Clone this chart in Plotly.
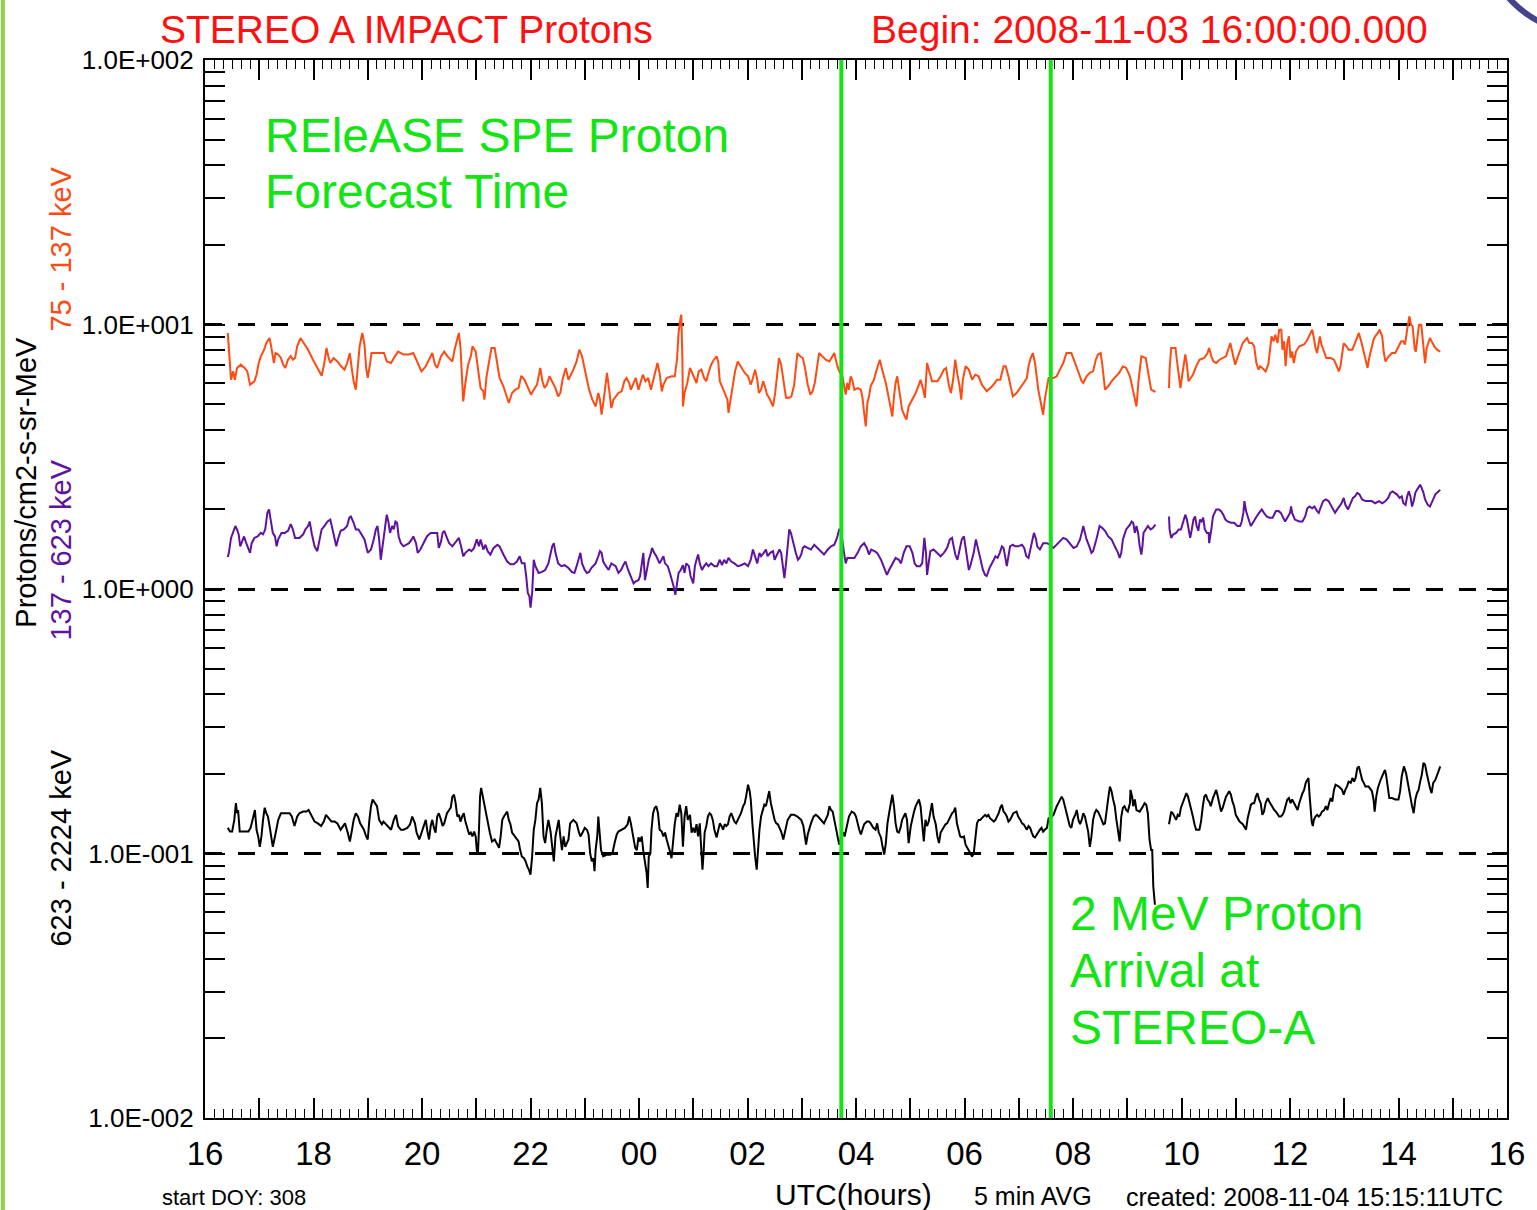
import plotly.graph_objects as go

# ---------------- data (hours since 2008-11-03 16:00 UTC, flux) ----------------
orange_75_137 = [
(0.42,9.29),(0.48,6.18),(0.52,6.65),(0.55,6.18),(0.59,6.85),(0.66,7.05),(0.73,6.85),(0.78,6.65),(0.83,5.92),(0.91,6.10),(0.95,6.46),(0.99,7.15),(1.03,7.58),(1.09,8.03),(1.13,8.51),(1.19,8.89),(1.22,8.27),(1.27,7.15),(1.30,7.80),(1.35,7.70),(1.40,7.47),(1.44,7.05),(1.48,6.85),(1.53,7.36),(1.58,7.60),(1.62,7.36),(1.66,7.47),(1.70,8.27),(1.76,8.89),(1.82,8.51),(1.90,8.03),(1.99,7.36),(2.08,6.85),(2.15,6.40),(2.20,7.15),(2.24,8.15),(2.28,7.47),(2.31,7.15),(2.37,7.47),(2.44,7.25),(2.51,6.95),(2.57,6.75),(2.62,7.15),(2.67,7.80),(2.70,6.95),(2.74,6.10),(2.78,5.67),(2.82,6.95),(2.85,8.27),(2.90,9.29),(2.94,8.40),(2.97,6.85),(3.00,6.28),(3.04,7.05),(3.07,7.80),(3.18,7.80),(3.30,7.80),(3.35,7.25),(3.43,7.15),(3.50,7.58),(3.56,7.90),(3.66,7.70),(3.76,7.70),(3.84,7.80),(3.92,7.15),(3.99,6.65),(4.07,6.95),(4.15,7.47),(4.19,7.80),(4.24,7.05),(4.28,6.85),(4.35,7.58),(4.41,7.90),(4.47,7.58),(4.56,7.25),(4.60,8.03),(4.64,8.64),(4.68,9.29),(4.71,8.15),(4.74,5.84),(4.76,5.12),(4.80,6.01),(4.85,7.05),(4.90,7.58),(4.93,8.27),(4.99,7.90),(5.03,6.95),(5.08,5.75),(5.13,5.60),(5.15,5.20),(5.19,6.37),(5.23,7.15),(5.28,8.15),(5.34,8.15),(5.39,6.95),(5.43,6.28),(5.50,5.84),(5.56,5.35),(5.60,5.05),(5.66,5.51),(5.72,5.67),(5.78,5.75),(5.83,6.40),(5.89,6.18),(5.95,5.75),(6.01,5.43),
(6.06,5.67),(6.12,5.92),(6.18,6.85),(6.22,6.10),(6.26,5.75),(6.30,5.92),(6.35,6.37),(6.40,6.10),(6.46,5.75),(6.51,5.35),(6.55,5.51),(6.59,6.18),(6.65,6.85),(6.70,6.18),(6.75,6.46),(6.79,6.75),(6.85,7.25),(6.90,8.03),(6.95,7.58),(7.00,6.65),(7.04,6.18),(7.08,5.67),(7.14,5.20),(7.20,4.90),(7.25,5.51),(7.28,5.20),(7.31,4.56),(7.35,5.20),(7.39,6.01),(7.41,6.56),(7.45,5.67),(7.49,4.83),(7.53,5.20),(7.57,5.35),(7.62,5.51),(7.68,5.59),(7.73,6.10),(7.77,6.28),(7.82,6.01),(7.85,5.67),(7.90,6.01),(7.94,6.28),(7.99,5.67),(8.04,6.18),(8.07,6.46),(8.12,6.10),(8.17,6.28),(8.22,5.67),(8.26,6.10),(8.30,6.56),(8.34,7.15),(8.38,6.56),(8.42,5.59),(8.45,5.92),(8.51,6.28),(8.60,6.37),(8.66,6.37),(8.70,7.36),(8.73,9.29),(8.76,10.43),(8.78,10.90),(8.80,7.36),(8.81,4.90),(8.84,5.51),(8.89,6.01),(8.94,6.85),(8.98,6.56),(9.02,6.28),(9.06,6.01),(9.10,6.65),(9.15,6.75),(9.20,6.28),(9.24,6.10),(9.28,6.56),(9.33,7.05),(9.38,7.36),(9.43,7.58),(9.46,7.25),(9.49,6.10),(9.53,5.84),(9.58,5.51),(9.63,5.20),(9.65,4.63),(9.69,5.20),(9.73,6.01),(9.77,6.65),(9.82,7.25),(9.88,6.95),(9.95,6.56),(10.01,6.37),(10.06,5.92),(10.10,6.28),(10.14,6.75),(10.18,6.18),(10.21,5.51),(10.25,5.67),(10.29,6.10),(10.33,5.75),(10.36,5.43),(10.40,5.28),(10.45,5.05),(10.47,4.90),(10.51,5.51),(10.55,6.46),(10.58,7.47),(10.62,7.05),(10.66,6.18),(10.71,5.28),(10.77,5.28),(10.81,5.35),(10.86,5.92),(10.89,6.95),(10.92,7.80),(10.97,7.58),(11.02,7.47),(11.06,6.85),(11.11,5.92),(11.16,5.43),(11.20,5.59),(11.24,6.01),(11.28,6.75),(11.32,7.80),(11.38,7.58),(11.44,7.36),(11.51,7.25),(11.57,7.58),(11.60,7.80),(11.65,7.05),(11.69,6.65),(11.75,6.37),(11.81,5.43),
(11.84,6.01),(11.87,5.67),(11.90,6.37),(11.93,6.18),(11.97,5.67),(12.03,5.75),(12.09,5.67),(12.12,5.28),(12.15,4.63),(12.18,4.12),(12.21,5.05),(12.24,5.35),(12.27,5.84),(12.33,6.18),(12.39,6.85),(12.44,7.36),(12.49,6.65),(12.55,6.01),(12.61,5.20),(12.64,4.76),(12.67,4.49),(12.70,5.35),(12.73,6.01),(12.76,6.37),(12.79,5.75),(12.82,5.20),(12.85,4.76),(12.90,4.49),(12.93,4.37),(12.97,4.90),(13.04,5.20),(13.10,5.51),(13.16,5.92),(13.19,6.18),(13.24,5.67),(13.27,5.28),(13.31,7.15),(13.34,6.75),(13.40,6.10),(13.50,6.10),(13.56,6.37),(13.62,6.75),(13.66,6.85),(13.71,5.92),(13.75,5.51),(13.79,6.18),(13.83,7.36),(13.87,6.46),(13.91,5.84),(13.94,5.20),(13.97,6.18),(14.02,6.95),(14.08,6.75),(14.14,6.18),(14.20,6.46),(14.26,6.37),(14.32,5.92),(14.41,5.59),(14.51,5.84),(14.60,6.18),(14.66,6.18),(14.72,6.95),(14.76,6.95),(14.81,6.37),(14.89,5.35),(14.96,5.51),(15.03,5.75),(15.09,6.01),(15.15,6.28),(15.18,6.95),(15.22,7.47),(15.26,7.80),(15.30,7.15),(15.36,5.67),(15.42,4.90),(15.45,4.56),(15.48,5.20),(15.52,5.75),(15.55,6.28),(15.64,6.28),(15.70,6.37),(15.76,6.75),(15.82,7.15),(15.88,7.80),(15.97,7.80),(16.04,7.15),(16.10,6.65),(16.16,6.10),(16.19,6.01),(16.25,6.37),(16.31,6.56),(16.37,6.65),(16.42,7.36),(16.46,7.70),(16.51,7.80),(16.54,7.05),(16.59,5.67),(16.65,5.84),(16.71,6.10),(16.77,6.28),(16.85,6.56),(16.92,6.95),(16.98,6.85),(17.05,6.37),(17.09,5.84),(17.14,5.20),(17.17,4.90),(17.21,6.18),(17.26,7.58),(17.34,7.47),(17.36,7.05),(17.40,6.18),(17.44,5.67),(17.50,5.59),(17.52,5.55),
(17.64,None),
(17.77,5.75),(17.78,6.75),(17.81,8.15),(17.89,8.15),(17.91,7.47),(17.95,6.37),(17.98,5.75),(18.01,6.37),(18.04,7.05),(18.07,7.70),(18.10,7.05),(18.13,6.10),(18.17,6.28),(18.21,6.46),(18.27,6.95),(18.33,7.36),(18.42,7.47),(18.48,7.80),(18.51,8.15),(18.55,7.58),(18.59,7.25),(18.64,7.15),(18.70,7.36),(18.77,7.47),(18.82,7.58),(18.87,8.15),(18.90,8.51),(18.94,7.80),(18.99,7.05),(19.03,7.47),(19.08,8.03),(19.13,8.51),(19.18,8.76),(19.21,8.89),(19.25,8.51),(19.30,8.51),(19.34,8.27),(19.38,7.15),(19.42,6.75),(19.45,6.95),(19.49,6.85),(19.52,6.75),(19.55,6.65),(19.60,7.05),(19.63,8.27),(19.66,9.02),(19.70,8.64),(19.73,9.15),(19.77,8.51),(19.80,9.56),(19.84,9.56),(19.86,8.03),(19.89,8.64),(19.92,6.95),(19.95,8.51),(19.98,9.02),(20.01,7.47),(20.04,7.90),(20.07,7.15),(20.11,7.90),(20.17,8.27),(20.26,8.40),(20.32,8.76),(20.38,9.29),(20.41,9.56),(20.44,8.89),(20.47,8.15),(20.50,7.80),(20.55,9.02),(20.58,8.40),(20.63,7.80),(20.67,7.47),(20.75,7.47),(20.81,7.36),(20.85,7.05),(20.90,6.65),(20.93,6.95),(20.96,7.70),(20.99,8.51),(21.04,8.27),(21.08,8.03),(21.15,8.03),(21.20,8.51),(21.24,9.02),(21.27,9.29),(21.32,8.51),(21.36,7.90),(21.39,7.47),(21.43,6.85),(21.46,7.47),(21.51,8.27),(21.54,8.76),(21.57,9.02),(21.62,9.29),(21.65,9.56),(21.70,9.02),(21.73,7.80),(21.76,7.25),(21.82,7.58),(21.88,7.80),(21.94,7.80),(22.00,8.27),(22.05,8.64),(22.09,8.64),(22.12,8.40),(22.16,9.56),(22.19,10.43),(22.20,10.74),(22.23,9.98),(22.26,9.84),(22.30,8.03),(22.32,7.90),(22.36,9.29),(22.38,9.98),(22.42,9.98),(22.44,8.98),(22.47,7.80),(22.49,7.15),(22.52,8.15),(22.55,8.51),(22.58,8.89),(22.61,8.64),(22.66,8.27),(22.71,8.03),(22.77,7.90),
]

purple_137_623 = [
(0.42,1.32),(0.44,1.37),(0.48,1.56),(0.52,1.63),(0.56,1.73),(0.59,1.68),(0.62,1.61),(0.65,1.45),(0.69,1.54),(0.72,1.58),(0.75,1.51),(0.78,1.45),(0.83,1.37),(0.86,1.49),(0.91,1.56),(0.97,1.58),(1.03,1.63),(1.07,1.61),(1.11,1.68),(1.15,1.94),(1.18,2.00),(1.21,1.83),(1.25,1.63),(1.29,1.58),(1.32,1.45),(1.35,1.54),(1.41,1.63),(1.47,1.63),(1.53,1.66),(1.58,1.76),(1.62,1.68),(1.66,1.56),(1.74,1.56),(1.81,1.61),(1.85,1.68),(1.90,1.73),(1.93,1.80),(1.97,1.61),(2.02,1.45),(2.07,1.39),(2.11,1.54),(2.15,1.68),(2.20,1.73),(2.26,1.80),(2.31,1.83),(2.36,1.63),(2.42,1.45),(2.45,1.54),(2.50,1.66),(2.56,1.68),(2.62,1.73),(2.66,1.86),(2.69,1.88),(2.74,1.78),(2.78,1.68),(2.83,1.68),(2.88,1.61),(2.94,1.54),(3.00,1.37),(3.06,1.41),(3.11,1.54),(3.15,1.68),(3.18,1.73),(3.21,1.54),(3.24,1.29),(3.29,1.54),(3.32,1.73),(3.35,1.91),(3.38,1.80),(3.41,1.63),(3.45,1.73),(3.48,1.68),(3.51,1.80),(3.54,1.78),(3.57,1.58),(3.61,1.49),(3.66,1.45),(3.72,1.47),(3.76,1.49),(3.81,1.54),(3.84,1.58),(3.89,1.49),(3.92,1.37),(3.97,1.41),(4.03,1.49),(4.09,1.58),(4.16,1.63),(4.22,1.63),(4.28,1.63),(4.31,1.43),(4.35,1.51),(4.38,1.63),(4.41,1.66),(4.46,1.56),(4.50,1.49),(4.56,1.45),(4.62,1.51),(4.68,1.56),(4.72,1.45),(4.76,1.33),(4.80,1.37),(4.87,1.41),(4.91,1.39),(4.96,1.43),(5.01,1.54),(5.05,1.45),(5.08,1.54),(5.13,1.41),(5.17,1.47),(5.21,1.39),(5.26,1.35),(5.32,1.43),(5.39,1.47),(5.43,1.45),(5.50,1.35),(5.57,1.27),(5.63,1.24),(5.69,1.24),(5.75,1.27),(5.80,1.33),(5.84,1.25),(5.89,1.25),(5.92,1.12),(5.95,0.966),(5.98,0.938),(6.00,0.85),(6.03,0.966),
(6.06,1.29),(6.09,1.22),(6.12,1.18),(6.15,1.15),(6.21,1.16),(6.27,1.18),(6.33,1.25),(6.37,1.37),(6.40,1.45),(6.43,1.49),(6.46,1.37),(6.51,1.25),(6.57,1.22),(6.63,1.23),(6.70,1.20),(6.76,1.16),(6.81,1.15),(6.85,1.22),(6.89,1.29),(6.92,1.37),(6.95,1.25),(7.00,1.18),(7.04,1.15),(7.08,1.16),(7.12,1.20),(7.16,1.22),(7.20,1.25),(7.25,1.33),(7.28,1.39),(7.31,1.37),(7.34,1.27),(7.39,1.22),(7.44,1.18),(7.49,1.25),(7.53,1.23),(7.57,1.22),(7.62,1.15),(7.67,1.18),(7.71,1.23),(7.75,1.27),(7.80,1.18),(7.85,1.12),(7.90,1.05),(7.94,1.07),(7.99,1.08),(8.02,1.12),(8.05,1.22),(8.08,1.37),(8.11,1.08),(8.14,1.18),(8.18,1.29),(8.22,1.37),(8.24,1.43),(8.28,1.37),(8.32,1.33),(8.38,1.25),(8.45,1.33),(8.48,1.25),(8.53,1.22),(8.57,1.15),(8.61,1.08),(8.64,1.02),(8.67,0.95),(8.70,1.05),(8.73,1.15),(8.77,1.18),(8.81,1.23),(8.84,1.15),(8.87,1.25),(8.92,1.22),(8.95,1.12),(9.00,1.05),(9.03,1.22),(9.06,1.29),(9.09,1.35),(9.12,1.25),(9.16,1.18),(9.20,1.22),(9.24,1.25),(9.28,1.22),(9.33,1.25),(9.39,1.22),(9.44,1.22),(9.49,1.29),(9.53,1.23),(9.57,1.29),(9.61,1.25),(9.65,1.31),(9.70,1.27),(9.76,1.25),(9.82,1.22),(9.88,1.23),(9.95,1.25),(10.01,1.22),(10.06,1.29),(10.10,1.41),(10.14,1.33),(10.18,1.25),(10.22,1.37),(10.25,1.33),(10.30,1.37),(10.34,1.41),(10.37,1.33),(10.42,1.37),(10.47,1.39),(10.50,1.29),(10.53,1.33),(10.56,1.37),(10.59,1.41),(10.62,1.37),(10.65,1.22),(10.68,1.10),(10.71,1.25),(10.74,1.49),(10.77,1.68),(10.80,1.63),(10.83,1.54),(10.86,1.43),(10.89,1.37),(10.93,1.29),(10.96,1.31),(10.99,1.35),(11.02,1.43),(11.05,1.45),(11.11,1.43),(11.17,1.41),(11.23,1.47),(11.29,1.43),(11.35,1.39),(11.41,1.35),(11.48,1.41),(11.54,1.45),(11.60,1.47),(11.65,1.56),(11.69,1.68),(11.72,1.68),
(11.78,1.37),(11.81,1.25),(11.84,1.31),(11.90,1.31),(11.97,1.31),(12.03,1.37),(12.09,1.45),(12.15,1.49),(12.20,1.43),(12.24,1.35),(12.28,1.41),(12.34,1.39),(12.39,1.37),(12.46,1.29),(12.52,1.20),(12.57,1.13),(12.61,1.18),(12.67,1.25),(12.73,1.31),(12.79,1.29),(12.83,1.25),(12.88,1.37),(12.93,1.45),(12.99,1.45),(13.04,1.37),(13.08,1.25),(13.12,1.22),(13.18,1.22),(13.22,1.25),(13.26,1.56),(13.29,1.37),(13.31,1.13),(13.34,1.29),(13.37,1.39),(13.43,1.41),(13.50,1.37),(13.56,1.33),(13.62,1.37),(13.68,1.43),(13.73,1.54),(13.77,1.56),(13.80,1.45),(13.83,1.35),(13.87,1.29),(13.92,1.45),(13.95,1.54),(13.99,1.58),(14.02,1.45),(14.05,1.33),(14.08,1.18),(14.11,1.23),(14.14,1.29),(14.17,1.37),(14.21,1.54),(14.24,1.45),(14.28,1.33),(14.30,1.25),(14.34,1.18),(14.38,1.13),(14.41,1.12),(14.46,1.20),(14.51,1.25),(14.54,1.29),(14.57,1.33),(14.61,1.31),(14.65,1.37),(14.69,1.45),(14.72,1.43),(14.75,1.33),(14.78,1.22),(14.81,1.33),(14.84,1.45),(14.89,1.47),(14.93,1.45),(14.99,1.45),(15.06,1.47),(15.10,1.43),(15.14,1.33),(15.18,1.31),(15.22,1.45),(15.26,1.58),(15.28,1.63),(15.32,1.54),(15.34,1.45),(15.39,1.41),(15.45,1.49),(15.52,1.49),(15.58,1.47),(15.64,1.43),(15.70,1.47),(15.76,1.51),(15.82,1.56),(15.88,1.54),(15.94,1.49),(16.01,1.43),(16.07,1.45),(16.13,1.54),(16.16,1.63),(16.19,1.73),(16.22,1.63),(16.25,1.54),(16.30,1.45),(16.34,1.37),(16.37,1.39),(16.40,1.45),(16.43,1.54),(16.46,1.63),(16.49,1.73),(16.54,1.70),(16.59,1.66),(16.65,1.58),(16.71,1.54),(16.77,1.45),(16.83,1.37),(16.86,1.31),(16.89,1.37),(16.92,1.54),(16.95,1.63),(16.98,1.68),(17.05,1.75),(17.08,1.80),(17.11,1.78),(17.14,1.63),(17.17,1.73),(17.20,1.63),(17.23,1.45),(17.26,1.35),(17.28,1.45),(17.30,1.63),(17.34,1.68),(17.38,1.73),(17.43,1.68),(17.47,1.70),(17.52,1.75),
(17.64,None),
(17.77,1.88),(17.78,1.68),(17.81,1.56),(17.85,1.61),(17.90,1.63),(17.95,1.68),(17.99,1.68),(18.04,1.83),(18.07,1.91),(18.10,1.83),(18.13,1.68),(18.16,1.56),(18.19,1.68),(18.22,1.83),(18.25,1.88),(18.28,1.73),(18.31,1.66),(18.34,1.83),(18.37,1.80),(18.40,1.86),(18.43,1.68),(18.47,1.63),(18.50,1.63),(18.51,1.49),(18.55,1.68),(18.58,1.88),(18.61,1.94),(18.64,2.00),(18.69,2.00),(18.73,1.97),(18.77,1.91),(18.81,1.83),(18.85,1.80),(18.91,1.78),(18.97,1.78),(19.03,1.73),(19.08,1.73),(19.11,1.80),(19.14,1.94),(19.16,2.15),(19.19,1.97),(19.22,1.86),(19.25,1.80),(19.28,1.73),(19.31,1.78),(19.37,1.86),(19.43,1.94),(19.48,2.00),(19.52,1.94),(19.57,1.88),(19.62,1.86),(19.68,1.86),(19.74,1.97),(19.79,1.97),(19.83,1.94),(19.87,1.88),(19.91,1.80),(19.95,1.86),(20.00,1.94),(20.02,2.05),(20.04,1.94),(20.09,1.83),(20.17,1.80),(20.23,1.80),(20.28,1.88),(20.32,2.02),(20.36,2.05),(20.41,2.02),(20.45,2.05),(20.50,1.97),(20.53,1.94),(20.56,2.02),(20.61,2.15),(20.66,2.18),(20.71,2.15),(20.75,2.08),(20.79,2.00),(20.83,1.94),(20.87,2.00),(20.91,2.05),(20.95,2.11),(20.99,2.21),(21.02,2.08),(21.07,2.00),(21.12,2.11),(21.16,2.21),(21.20,2.24),(21.24,2.31),(21.28,2.28),(21.33,2.18),(21.39,2.15),(21.45,2.15),(21.51,2.15),(21.57,2.11),(21.64,2.15),(21.70,2.11),(21.76,2.15),(21.81,2.21),(21.85,2.31),(21.89,2.34),(21.93,2.31),(21.97,2.28),(22.02,2.21),(22.06,2.24),(22.09,2.11),(22.13,2.08),(22.16,2.24),(22.19,2.34),(22.22,2.24),(22.25,2.05),(22.28,2.15),(22.31,2.31),(22.34,2.37),(22.37,2.44),(22.40,2.48),(22.43,2.40),(22.46,2.31),(22.49,2.18),(22.54,2.08),(22.58,2.05),(22.62,2.15),(22.64,2.21),(22.68,2.28),(22.74,2.34),(22.77,2.37),
]

black_623_2224 = [
(0.42,0.125),(0.46,0.121),(0.50,0.121),(0.54,0.134),(0.57,0.155),(0.59,0.142),(0.61,0.146),(0.64,0.121),(0.70,0.121),(0.80,0.121),(0.84,0.125),(0.88,0.134),(0.92,0.146),(0.95,0.123),(0.98,0.116),(1.01,0.106),(1.04,0.116),(1.07,0.134),(1.10,0.149),(1.13,0.142),(1.16,0.138),(1.19,0.127),(1.22,0.116),(1.25,0.106),(1.29,0.116),(1.32,0.127),(1.35,0.134),(1.40,0.142),(1.47,0.142),(1.56,0.142),(1.60,0.138),(1.65,0.127),(1.70,0.138),(1.74,0.142),(1.81,0.144),(1.87,0.144),(1.91,0.146),(1.96,0.140),(2.02,0.132),(2.08,0.130),(2.14,0.127),(2.19,0.132),(2.23,0.140),(2.28,0.136),(2.33,0.132),(2.39,0.132),(2.44,0.130),(2.50,0.123),(2.54,0.127),(2.58,0.130),(2.63,0.120),(2.67,0.111),(2.71,0.123),(2.74,0.134),(2.78,0.142),(2.82,0.138),(2.86,0.130),(2.93,0.123),(2.97,0.116),(3.00,0.113),(3.03,0.134),(3.06,0.151),(3.09,0.160),(3.13,0.155),(3.17,0.151),(3.21,0.134),(3.26,0.129),(3.29,0.132),(3.34,0.129),(3.38,0.127),(3.43,0.123),(3.48,0.134),(3.52,0.140),(3.56,0.127),(3.61,0.123),(3.66,0.123),(3.73,0.125),(3.78,0.129),(3.82,0.138),(3.87,0.130),(3.90,0.120),(3.95,0.113),(3.99,0.120),(4.03,0.127),(4.07,0.134),(4.10,0.121),(4.13,0.113),(4.16,0.127),(4.19,0.134),(4.22,0.125),(4.25,0.120),(4.28,0.138),(4.31,0.142),(4.35,0.134),(4.38,0.127),(4.41,0.130),(4.46,0.142),(4.50,0.146),(4.53,0.149),(4.56,0.164),(4.59,0.167),(4.62,0.155),(4.65,0.138),(4.68,0.140),(4.71,0.132),(4.74,0.138),(4.77,0.142),(4.80,0.132),(4.83,0.125),(4.87,0.118),(4.90,0.120),(4.93,0.116),(4.96,0.121),(4.99,0.116),(5.01,0.103),(5.03,0.099),(5.05,0.123),(5.07,0.164),(5.09,0.177),(5.13,0.160),(5.17,0.142),(5.20,0.132),(5.25,0.120),(5.29,0.111),(5.34,0.113),(5.39,0.108),(5.42,0.105),(5.45,0.116),(5.48,0.134),(5.51,0.138),(5.54,0.142),(5.57,0.144),(5.60,0.134),(5.63,0.129),(5.66,0.120),(5.72,0.116),(5.78,0.111),(5.81,0.103),(5.84,0.0975),(5.88,0.096),(5.91,0.0934),(5.94,0.0894),(5.97,0.0869),(6.00,0.0832),
(6.03,0.0975),(6.06,0.123),(6.09,0.134),(6.12,0.155),(6.15,0.160),(6.18,0.177),(6.21,0.155),(6.24,0.116),(6.27,0.1095),(6.30,0.123),(6.33,0.134),(6.37,0.121),(6.40,0.106),(6.43,0.0934),(6.46,0.116),(6.49,0.125),(6.52,0.134),(6.55,0.116),(6.58,0.103),(6.61,0.116),(6.64,0.106),(6.70,0.113),(6.73,0.130),(6.79,0.134),(6.85,0.130),(6.89,0.121),(6.92,0.116),(6.96,0.120),(7.00,0.125),(7.04,0.123),(7.07,0.118),(7.10,0.100),(7.13,0.0934),(7.16,0.096),(7.18,0.0857),(7.20,0.103),(7.23,0.116),(7.25,0.138),(7.27,0.121),(7.30,0.103),(7.34,0.0975),(7.41,0.099),(7.47,0.099),(7.51,0.100),(7.55,0.1095),(7.59,0.118),(7.62,0.121),(7.68,0.123),(7.74,0.125),(7.79,0.129),(7.82,0.138),(7.85,0.130),(7.90,0.116),(7.93,0.105),(7.96,0.103),(7.99,0.115),(8.02,0.111),(8.05,0.116),(8.08,0.102),(8.11,0.092),(8.14,0.0845),(8.16,0.0741),(8.18,0.0975),(8.21,0.100),(8.23,0.123),(8.26,0.142),(8.29,0.149),(8.32,0.151),(8.35,0.142),(8.38,0.123),(8.42,0.121),(8.45,0.116),(8.48,0.120),(8.51,0.113),(8.54,0.108),(8.57,0.102),(8.60,0.096),(8.63,0.113),(8.66,0.130),(8.69,0.142),(8.72,0.138),(8.75,0.153),(8.78,0.142),(8.81,0.106),(8.84,0.138),(8.87,0.151),(8.90,0.134),(8.94,0.140),(8.97,0.120),(9.00,0.125),(9.03,0.120),(9.06,0.129),(9.09,0.116),(9.12,0.130),(9.15,0.100),(9.17,0.0869),(9.19,0.100),(9.21,0.120),(9.24,0.127),(9.27,0.138),(9.30,0.142),(9.33,0.140),(9.36,0.134),(9.39,0.123),(9.43,0.115),(9.46,0.123),(9.49,0.130),(9.52,0.127),(9.55,0.123),(9.58,0.129),(9.61,0.127),(9.64,0.129),(9.67,0.138),(9.70,0.142),(9.73,0.136),(9.76,0.132),(9.79,0.130),(9.82,0.134),(9.85,0.136),(9.88,0.142),(9.92,0.151),(9.95,0.155),(9.98,0.167),(10.01,0.182),(10.04,0.172),(10.06,0.160),(10.09,0.130),(10.11,0.113),(10.14,0.0975),(10.17,0.0869),(10.19,0.103),(10.22,0.123),(10.25,0.138),(10.28,0.144),(10.31,0.153),(10.34,0.151),(10.37,0.160),(10.40,0.172),(10.43,0.155),(10.47,0.142),(10.50,0.134),(10.53,0.130),(10.56,0.129),(10.62,0.121),(10.66,0.113),(10.70,0.123),(10.74,0.134),(10.80,0.140),(10.86,0.140),(10.92,0.138),(10.99,0.134),(11.03,0.127),(11.08,0.108),(11.11,0.118),(11.14,0.125),(11.17,0.130),(11.22,0.138),(11.26,0.140),(11.30,0.138),(11.35,0.134),(11.41,0.130),(11.48,0.140),(11.51,0.151),(11.54,0.146),(11.57,0.144),(11.60,0.134),(11.65,0.120),(11.69,0.108),
(11.73,0.116),(11.77,0.120),(11.79,0.116),(11.83,0.127),(11.87,0.138),(11.92,0.144),(11.97,0.142),(12.00,0.138),(12.03,0.129),(12.06,0.123),(12.09,0.118),(12.12,0.125),(12.15,0.129),(12.20,0.132),(12.24,0.132),(12.27,0.130),(12.32,0.125),(12.36,0.123),(12.39,0.130),(12.42,0.120),(12.46,0.115),(12.49,0.106),(12.52,0.099),(12.55,0.1095),(12.58,0.130),(12.61,0.142),(12.64,0.155),(12.67,0.167),(12.70,0.151),(12.73,0.130),(12.76,0.121),(12.79,0.120),(12.82,0.125),(12.85,0.134),(12.88,0.138),(12.91,0.142),(12.94,0.134),(12.97,0.1095),(13.01,0.127),(13.04,0.136),(13.07,0.144),(13.10,0.151),(13.13,0.155),(13.16,0.160),(13.19,0.151),(13.22,0.130),(13.25,0.111),(13.28,0.134),(13.31,0.127),(13.34,0.132),(13.37,0.144),(13.40,0.155),(13.43,0.138),(13.47,0.129),(13.50,0.116),(13.53,0.1095),(13.56,0.120),(13.59,0.123),(13.62,0.127),(13.65,0.129),(13.68,0.130),(13.71,0.134),(13.74,0.138),(13.77,0.142),(13.80,0.144),(13.83,0.149),(13.86,0.130),(13.89,0.123),(13.92,0.116),(13.95,0.115),(13.99,0.116),(14.02,0.108),(14.05,0.105),(14.08,0.103),(14.11,0.100),(14.14,0.0975),(14.17,0.100),(14.20,0.118),(14.23,0.130),(14.26,0.134),(14.29,0.134),(14.32,0.136),(14.35,0.138),(14.38,0.140),(14.41,0.138),(14.44,0.140),(14.47,0.136),(14.51,0.134),(14.54,0.132),(14.57,0.134),(14.60,0.138),(14.63,0.142),(14.66,0.149),(14.69,0.153),(14.72,0.144),(14.75,0.142),(14.78,0.138),(14.81,0.132),(14.84,0.134),(14.87,0.138),(14.90,0.142),(14.96,0.144),(14.99,0.138),(15.03,0.134),(15.06,0.130),(15.09,0.129),(15.12,0.125),(15.15,0.123),(15.18,0.127),(15.21,0.125),(15.24,0.120),(15.27,0.116),(15.30,0.115),(15.33,0.118),(15.36,0.121),(15.39,0.123),(15.42,0.125),(15.45,0.121),(15.48,0.123),(15.52,0.125),(15.55,0.136),(15.58,0.136),(15.64,0.140),(15.67,0.146),(15.70,0.151),(15.73,0.155),(15.76,0.160),(15.79,0.164),(15.82,0.160),(15.85,0.151),(15.88,0.146),(15.91,0.134),(15.94,0.127),(15.97,0.125),(16.00,0.134),(16.04,0.140),(16.07,0.146),(16.10,0.134),(16.13,0.129),(16.16,0.134),(16.19,0.142),(16.22,0.138),(16.25,0.130),(16.28,0.121),(16.31,0.106),(16.34,0.116),(16.37,0.134),(16.40,0.142),(16.43,0.146),(16.46,0.144),(16.49,0.140),(16.52,0.134),(16.56,0.129),(16.59,0.130),(16.62,0.149),(16.65,0.162),(16.68,0.179),(16.71,0.172),(16.74,0.160),(16.77,0.151),(16.80,0.134),(16.83,0.120),(16.86,0.111),(16.89,0.138),(16.92,0.149),(16.95,0.151),(16.98,0.146),(17.01,0.144),(17.05,0.155),(17.06,0.174),(17.09,0.164),(17.11,0.151),(17.14,0.160),(17.17,0.146),(17.23,0.144),(17.29,0.151),(17.32,0.155),(17.35,0.153),(17.38,0.142),(17.41,0.113),(17.44,0.103),(17.46,0.103),(17.48,0.075),(17.51,0.064),
(17.64,None),
(17.77,0.129),(17.78,0.134),(17.81,0.144),(17.84,0.142),(17.87,0.138),(17.90,0.134),(17.93,0.140),(17.96,0.138),(17.99,0.149),(18.02,0.155),(18.06,0.162),(18.09,0.169),(18.12,0.164),(18.15,0.155),(18.18,0.149),(18.21,0.138),(18.24,0.129),(18.27,0.123),(18.33,0.123),(18.36,0.132),(18.39,0.149),(18.42,0.164),(18.45,0.167),(18.48,0.160),(18.51,0.157),(18.54,0.151),(18.58,0.162),(18.61,0.167),(18.64,0.174),(18.67,0.164),(18.70,0.155),(18.73,0.144),(18.76,0.149),(18.79,0.155),(18.82,0.164),(18.88,0.172),(18.91,0.167),(18.94,0.157),(18.97,0.151),(19.00,0.140),(19.07,0.132),(19.13,0.129),(19.16,0.125),(19.19,0.123),(19.22,0.136),(19.25,0.146),(19.28,0.153),(19.31,0.155),(19.34,0.155),(19.37,0.164),(19.40,0.169),(19.43,0.160),(19.46,0.155),(19.49,0.140),(19.52,0.144),(19.55,0.155),(19.59,0.162),(19.62,0.157),(19.65,0.153),(19.68,0.149),(19.71,0.146),(19.74,0.144),(19.77,0.140),(19.80,0.138),(19.83,0.138),(19.86,0.140),(19.89,0.144),(19.92,0.151),(19.95,0.160),(19.98,0.162),(20.01,0.155),(20.04,0.160),(20.08,0.155),(20.11,0.151),(20.14,0.146),(20.17,0.155),(20.20,0.164),(20.23,0.169),(20.26,0.174),(20.29,0.185),(20.32,0.190),(20.34,0.193),(20.36,0.167),(20.38,0.144),(20.40,0.132),(20.42,0.127),(20.44,0.134),(20.47,0.138),(20.50,0.140),(20.53,0.138),(20.56,0.140),(20.59,0.144),(20.63,0.146),(20.66,0.151),(20.69,0.146),(20.72,0.155),(20.75,0.162),(20.78,0.157),(20.81,0.174),(20.84,0.182),(20.90,0.179),(20.96,0.174),(20.99,0.167),(21.02,0.174),(21.05,0.179),(21.08,0.187),(21.12,0.185),(21.15,0.193),(21.18,0.187),(21.21,0.193),(21.24,0.210),(21.27,0.2135),(21.30,0.201),(21.33,0.190),(21.36,0.185),(21.39,0.179),(21.45,0.179),(21.51,0.172),(21.54,0.160),(21.56,0.144),(21.59,0.164),(21.62,0.177),(21.67,0.190),(21.70,0.196),(21.73,0.204),(21.75,0.207),(21.77,0.199),(21.80,0.179),(21.83,0.162),(21.88,0.162),(21.94,0.160),(22.00,0.160),(22.03,0.172),(22.06,0.196),(22.10,0.2135),(22.14,0.201),(22.16,0.190),(22.19,0.172),(22.22,0.162),(22.25,0.151),(22.28,0.142),(22.31,0.160),(22.34,0.169),(22.37,0.174),(22.40,0.187),(22.43,0.199),(22.46,0.220),(22.49,0.2167),(22.52,0.201),(22.55,0.187),(22.58,0.177),(22.61,0.169),(22.64,0.185),(22.68,0.190),(22.71,0.199),(22.74,0.207),(22.77,0.2135),
]

event_hours = [11.73, 15.59]          # REleASE forecast time, 2 MeV arrival (03:44, 07:35 UTC)
hour_ticks = list(range(0, 25))
hour_labels = [("%02d" % ((16 + h) % 24)) if h % 2 == 0 else "" for h in hour_ticks]
decade_ticks = [0.01, 0.1, 1, 10, 100]
decade_labels = ["1.0E-002", "1.0E-001", "1.0E+000", "1.0E+001", "1.0E+002"]
minor_y_ticks = [m * d for d in [0.01, 0.1, 1, 10] for m in range(2, 10)]

ORANGE = "#FF4A12"
PURPLE = "#5E129E"
GREEN = "#13E413"
IDL_FONT = "Liberation Sans, Arial, sans-serif"

fig = go.Figure()
for series, color in [(orange_75_137, ORANGE), (purple_137_623, PURPLE), (black_623_2224, "black")]:
    xs = [p[0] for p in series]
    ys = [p[1] for p in series]
    fig.add_trace(go.Scatter(x=xs, y=ys, mode="lines", connectgaps=False,
                             line=dict(color=color, width=2), showlegend=False,
                             hoverinfo="skip"))

shapes = []
for h in event_hours:
    shapes.append(dict(type="line", xref="x", yref="paper", x0=h, x1=h, y0=0, y1=1,
                       line=dict(color=GREEN, width=4), layer="above"))
# slide's green left border
shapes.append(dict(type="rect", xref="paper", yref="paper", x0=-0.1568, x1=-0.1537,
                   y0=-0.09, y1=1.06, fillcolor="#92D050", line=dict(width=0), layer="below"))
# slide decoration arc in the top-right corner
shapes.append(dict(type="circle", xref="paper", yref="paper", x0=0.9824, x1=1.1354,
                   y0=1.0265, y1=1.2155, line=dict(color="#44448A", width=6),
                   fillcolor="rgba(0,0,0,0)", layer="below"))

PW, PH, L, T = 1307.0, 1058.0, 205.0, 60.0
def px(x):
    return (x - L) / PW
def py(y):
    return (T + PH - y) / PH

annotations = []
def ann(text, x, y, size, color, xanchor="left", yanchor="middle", angle=0, family=IDL_FONT):
    annotations.append(dict(text=text, x=px(x), y=py(y), xref="paper", yref="paper",
                            showarrow=False, xanchor=xanchor, yanchor=yanchor,
                            textangle=angle, font=dict(size=size, color=color, family=family)))

ann("STEREO A IMPACT Protons", 158, 29, 39, "#FF1010")
ann("Begin: 2008-11-03 16:00:00.000", 872, 29, 39, "#FF1010")
ann("REleASE SPE Proton", 263, 135, 48, GREEN, family="Liberation Sans, Arial")
ann("Forecast Time", 263, 192, 48, GREEN, family="Liberation Sans, Arial")
ann("2 MeV Proton", 1071, 913, 48, GREEN, family="Liberation Sans, Arial")
ann("Arrival at", 1071, 970, 48, GREEN, family="Liberation Sans, Arial")
ann("STEREO-A", 1071, 1027, 48, GREEN, family="Liberation Sans, Arial")
ann("Protons/cm2-s-sr-MeV", 25, 482, 29, "black", xanchor="center", angle=-90)
ann("75 - 137 keV", 60, 249, 29, ORANGE, xanchor="center", angle=-90)
ann("137 - 623 keV", 60, 550, 29, PURPLE, xanchor="center", angle=-90)
ann("623 - 2224 keV", 60, 848, 29, "black", xanchor="center", angle=-90)
ann("start DOY: 308", 160, 1197, 22, "black")
ann("UTC(hours)", 775, 1194, 30, "black")
ann("5 min AVG", 975, 1196, 25, "black")
ann("created: 2008-11-04 15:15:11UTC", 1128, 1197, 25, "black")

fig.update_layout(
    width=1537, height=1210, autosize=False,
    margin=dict(l=205, r=25, t=60, b=92, pad=0),
    paper_bgcolor="white", plot_bgcolor="white",
    shapes=shapes, annotations=annotations, showlegend=False,
    font=dict(family=IDL_FONT, color="black"),
)
fig.update_xaxes(
    range=[0, 24], tickmode="array", tickvals=hour_ticks, ticktext=hour_labels,
    ticks="inside", ticklen=20, tickwidth=1.5, tickcolor="black",
    showline=True, linecolor="black", linewidth=2, mirror="allticks",
    showgrid=False, zeroline=False, tickfont=dict(size=33, color="black", family=IDL_FONT),
    ticklabelstandoff=5,
    minor=dict(tickmode="linear", tick0=0, dtick=1/6, ticks="inside", ticklen=9,
               tickwidth=1.2, tickcolor="black", showgrid=False),
)
fig.update_yaxes(
    type="log", range=[-2, 2], tickmode="array", tickvals=decade_ticks, ticktext=decade_labels,
    ticks="inside", ticklen=20, tickwidth=1.5, tickcolor="black",
    showline=True, linecolor="black", linewidth=2, mirror="allticks",
    showgrid=True, gridcolor="black", gridwidth=2.5, griddash="17px,16px",
    zeroline=False, tickfont=dict(size=26, color="black", family=IDL_FONT),
    ticklabelstandoff=4,
    minor=dict(tickmode="array", tickvals=minor_y_ticks, ticks="inside", ticklen=20,
               tickwidth=1.5, tickcolor="black", showgrid=False),
)

fig.write_html("out.html")
